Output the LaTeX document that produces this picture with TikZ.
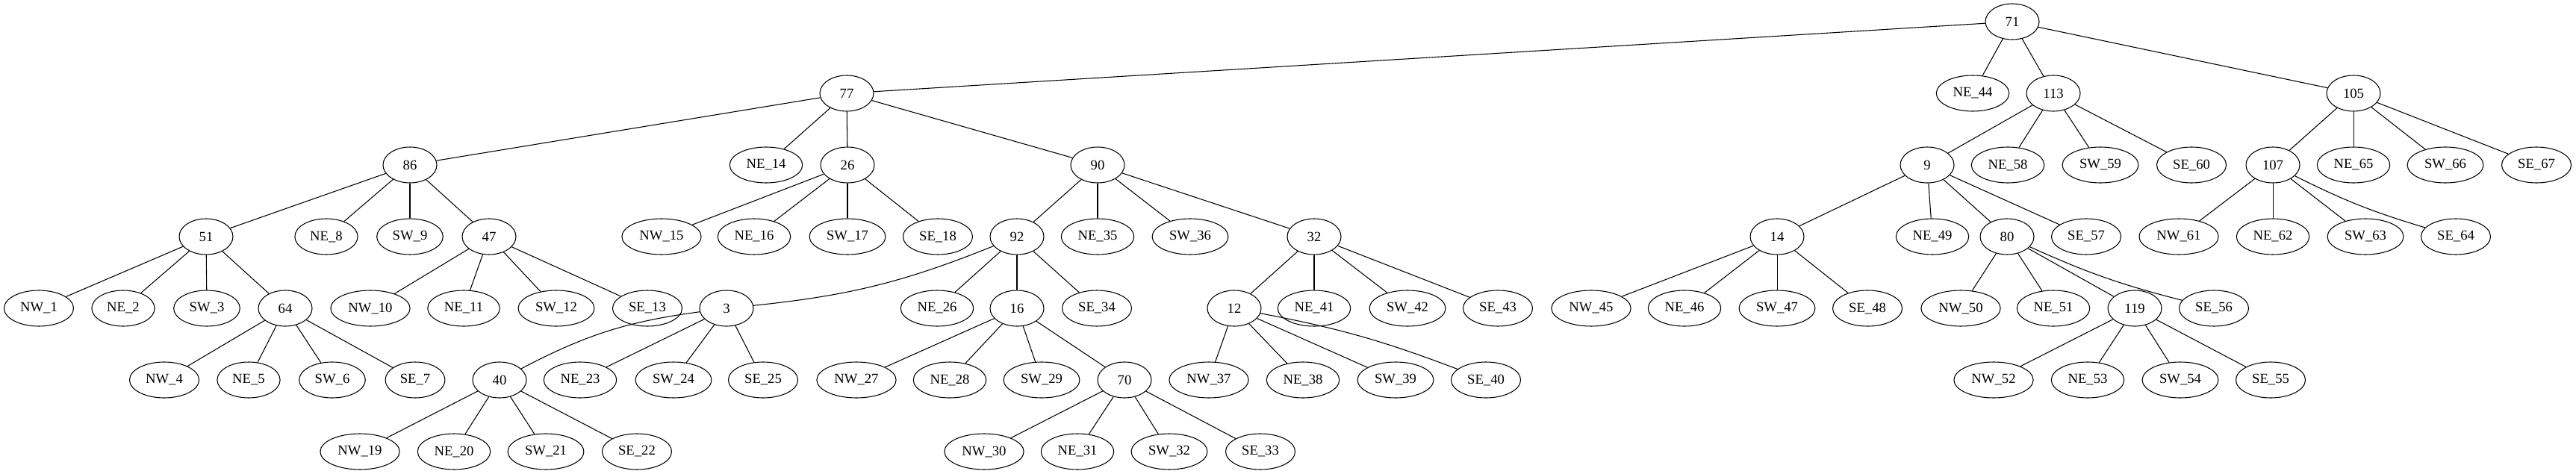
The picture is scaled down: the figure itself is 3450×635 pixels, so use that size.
\documentclass[tikz,border=0pt]{standalone}
\usepackage{fontspec}
\setmainfont{Liberation Serif}
\usetikzlibrary{shapes.geometric}

\tikzset{
  vertex/.style={draw, ellipse, line width=0.8pt, inner xsep=6pt, inner ysep=3pt,
    minimum width=54pt, minimum height=36pt, font=\fontsize{14}{17}\selectfont},
  link/.style={line width=0.8pt}
}

\begin{document}
\begin{tikzpicture}[x=0.75pt, y=-0.75pt]
  \useasboundingbox (0,0) rectangle (3450,635);

  % Define nodes, one rank at a time
  \node[vertex] (n71) at (2695,29) {71};

  \foreach \n/\x/\t in {n77/1134/77, NE44/2642/NE\_44, n113/2750/113, n105/3152/105}
    \node[vertex] (\n) at (\x,125) {\t};

  \foreach \n/\x/\t in {n86/549/86, NE14/1026/NE\_14, n26/1135/26, n90/1470/90,
      n9/2581/9, NE58/2689/NE\_58, SW59/2813/SW\_59, SE60/2935/SE\_60,
      n107/3044/107, NE65/3152/NE\_65, SW66/3275/SW\_66, SE67/3397/SE\_67}
    \node[vertex] (\n) at (\x,221) {\t};

  \foreach \n/\x/\t in {n51/276/51, NE8/437/NE\_8, SW9/549/SW\_9, n47/655/47,
      NW15/886/NW\_15, NE16/1010/NE\_16, SW17/1135/SW\_17, SE18/1256/SE\_18,
      n92/1362/92, NE35/1470/NE\_35, SW36/1594/SW\_36, n32/1760/32,
      n14/2380/14, NE49/2588/NE\_49, n80/2688/80, SE57/2794/SE\_57,
      NW61/2918/NW\_61, NE62/3044/NE\_62, SW63/3168/SW\_63, SE64/3289/SE\_64}
    \node[vertex] (\n) at (\x,317) {\t};

  \foreach \n/\x/\t in {NW1/52/NW\_1, NE2/165/NE\_2, SW3/277/SW\_3, n64/382/64,
      NW10/496/NW\_10, NE11/621/NE\_11, SW12/745/SW\_12, SE13/867/SE\_13,
      n3/973/3, NE26/1255/NE\_26, n16/1362/16, SE34/1469/SE\_34,
      n12/1653/12, NE41/1760/NE\_41, SW42/1885/SW\_42, SE43/2006/SE\_43,
      NW45/2131/NW\_45, NE46/2256/NE\_46, SW47/2380/SW\_47, SE48/2501/SE\_48,
      NW50/2626/NW\_50, NE51/2750/NE\_51, n119/2859/119, SE56/2965/SE\_56}
    \node[vertex] (\n) at (\x,413) {\t};

  \foreach \n/\x/\t in {NW4/220/NW\_4, NE5/333/NE\_5, SW6/445/SW\_6, SE7/556/SE\_7,
      n40/669/40, NE23/777/NE\_23, SW24/902/SW\_24, SE25/1022/SE\_25,
      NW27/1147/NW\_27, NE28/1272/NE\_28, SW29/1395/SW\_29, n70/1506/70,
      NW37/1619/NW\_37, NE38/1745/NE\_38, SW39/1869/SW\_39, SE40/1990/SE\_40,
      NW52/2670/NW\_52, NE53/2796/NE\_53, SW54/2920/SW\_54, SE55/3041/SE\_55}
    \node[vertex] (\n) at (\x,509) {\t};

  \foreach \n/\x/\t in {NW19/482/NW\_19, NE20/608/NE\_20, SW21/731/SW\_21, SE22/853/SE\_22,
      NW30/1318/NW\_30, NE31/1443/NE\_31, SW32/1566/SW\_32, SE33/1688/SE\_33}
    \node[vertex] (\n) at (\x,605) {\t};

  % Connect the nodes
  \foreach \p/\c in {n71/n77, n71/NE44, n71/n113, n71/n105,
      n77/n86, n77/NE14, n77/n26, n77/n90,
      n86/n51, n86/NE8, n86/SW9, n86/n47,
      n51/NW1, n51/NE2, n51/SW3, n51/n64,
      n64/NW4, n64/NE5, n64/SW6, n64/SE7,
      n47/NW10, n47/NE11, n47/SW12, n47/SE13,
      n26/NW15, n26/NE16, n26/SW17, n26/SE18,
      n90/n92, n90/NE35, n90/SW36, n90/n32,
      n92/NE26, n92/n16, n92/SE34,
      n3/NE23, n3/SW24, n3/SE25,
      n40/NW19, n40/NE20, n40/SW21, n40/SE22,
      n16/NW27, n16/NE28, n16/SW29, n16/n70,
      n70/NW30, n70/NE31, n70/SW32, n70/SE33,
      n32/n12, n32/NE41, n32/SW42, n32/SE43,
      n12/NW37, n12/NE38, n12/SW39,
      n113/n9, n113/NE58, n113/SW59, n113/SE60,
      n9/n14, n9/NE49, n9/n80, n9/SE57,
      n14/NW45, n14/NE46, n14/SW47, n14/SE48,
      n80/NW50, n80/NE51, n80/n119,
      n119/NW52, n119/NE53, n119/SW54, n119/SE55,
      n105/n107, n105/NE65, n105/SW66, n105/SE67,
      n107/NW61, n107/NE62, n107/SW63}
    \draw[link] (\p) -- (\c);

  % the few bent ones
  \draw[link] (n92) to[bend left=8] (n3);
  \draw[link] (n3) to[bend right=10] (n40);
  \draw[link] (n12) to[bend left=5] (SE40);
  \draw[link] (n80) to[bend right=5] (SE56);
  \draw[link] (n107) to[bend right=5] (SE64);
\end{tikzpicture}
\end{document}
